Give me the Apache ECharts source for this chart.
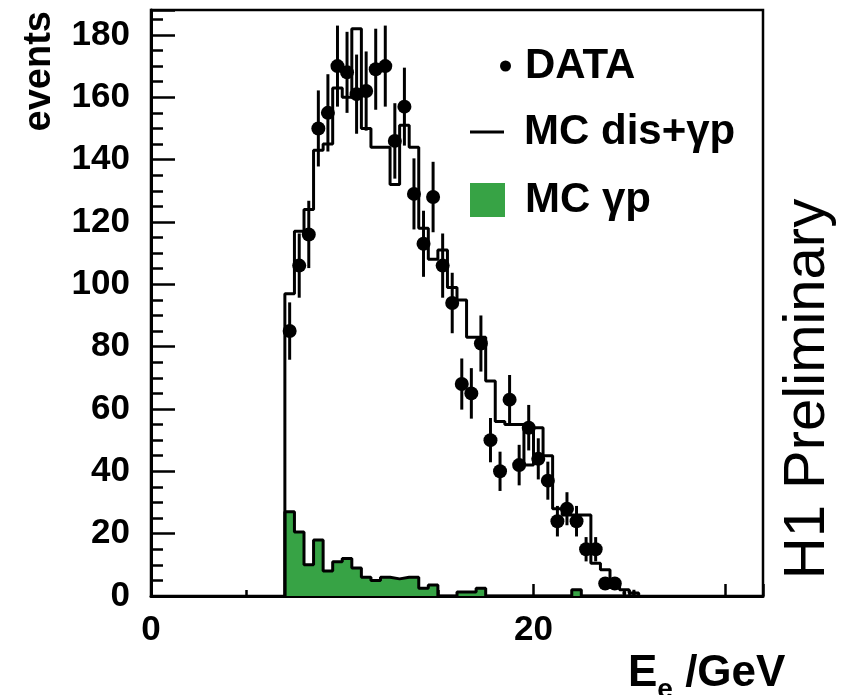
<!DOCTYPE html>
<html>
<head>
<meta charset="utf-8">
<style>
  html, body { margin: 0; padding: 0; background: #fff; }
  #chart { width: 845px; height: 695px; }
</style>
<script src="https://cdn.jsdelivr.net/npm/echarts@6/dist/echarts.min.js"></script>
</head>
<body>
<div id="chart"></div>
<script>
// Electron energy spectrum, histogram bins of 0.5 GeV starting at 7 GeV
const binStart = 7.0;
const binWidth = 0.5;

// Measured events per bin (points) and their statistical error half-lengths
const dataCounts = [85, 106, 116, 150, 155, 170, 168, 161, 162, 169, 170, 146, 157, 129, 113, 128, 106, 94, 68, 65, 81, 50, 40, 63, 42, 54, 44, 37, 24, 28, 24, 15, 15, 4, 4, 1, 1];
const dataErrors = [9.2, 10.3, 10.8, 12.2, 12.4, 13.0, 13.0, 12.7, 12.7, 13.0, 13.0, 12.1, 12.5, 11.4, 10.6, 11.3, 10.3, 9.7, 8.2, 8.1, 9.0, 7.1, 6.3, 7.9, 6.5, 7.3, 6.6, 6.1, 4.9, 5.3, 4.9, 3.9, 3.9, 2.0, 2.0, 1.0, 1.0];

// Simulation: DIS + photoproduction (total) and photoproduction alone
const mcTotal = [97, 117, 124, 143, 145, 163, 160, 182, 150, 144, 144, 132, 151, 144, 118, 108, 111, 99, 95, 83, 83, 69, 56, 55, 55, 42, 54, 45, 28, 26, 26, 26, 10.5, 8.4, 4, 2, 1];
const mcGammaP = [27, 20.5, 10, 18, 8, 11, 12, 9, 6, 5, 6, 5.5, 6, 6, 2.5, 3.5, 0, 0, 1.3, 1.3, 2.5, 0, 0, 0, 0, 0, 0, 0, 0, 0, 2, 0, 0, 0, 0, 0, 0];

// Axis settings
const xRange = [0, 32];
const yRange = [0, 188];
const xLabelValues = [0, 20];

const seriesNames = ['DATA', 'MC dis+\u03b3p', 'MC \u03b3p'];
const FONT = '"Liberation Sans", Arial, Helvetica, sans-serif';
const GREEN = '#37a345';

// Build step outlines: start at zero on the low edge, one point per bin low edge, close at zero
function stepPoints(values) {
  const pts = [[binStart, 0]];
  values.forEach((v, i) => pts.push([binStart + i * binWidth, v]));
  pts.push([binStart + values.length * binWidth, 0]);
  return pts;
}

const points = dataCounts.map((v, i) => [binStart + (i + 0.5) * binWidth, v, dataErrors[i]]);

const chart = echarts.init(document.getElementById('chart'), null, { renderer: 'canvas' });

chart.setOption({
  animation: false,
  backgroundColor: '#fff',
  grid: {
    left: 151, right: 82, top: 10, bottom: 99,
    containLabel: false, outerBoundsMode: 'none',
    show: true, borderColor: '#000', borderWidth: 2.5, backgroundColor: 'transparent'
  },
  xAxis: {
    type: 'value', min: xRange[0], max: xRange[1], interval: 10,
    axisLine: { show: true, onZero: false, lineStyle: { color: '#000', width: 3 } },
    axisTick: { show: true, inside: true, length: 12, lineStyle: { color: '#000', width: 2.5 } },
    minorTick: { show: true, splitNumber: 2, length: 6, lineStyle: { color: '#000', width: 2.5 } },
    splitLine: { show: false },
    axisLabel: {
      margin: 17, color: '#000', fontFamily: FONT, fontWeight: 'bold', fontSize: 35,
      showMaxLabel: false,
      formatter: v => (xLabelValues.indexOf(v) >= 0 ? String(v) : '')
    },
    name: '{e|E}{s|e} /GeV',
    nameLocation: 'end', nameGap: -135,
    nameTextStyle: {
      align: 'left', verticalAlign: 'top', padding: [48, 0, 0, 0],
      color: '#000', fontFamily: FONT, fontWeight: 'bold', fontSize: 44,
      rich: {
        e: { fontFamily: FONT, fontWeight: 'bold', fontSize: 44, color: '#000' },
        s: { fontFamily: FONT, fontWeight: 'bold', fontSize: 28, color: '#000', padding: [32, 0, 0, 0] }
      }
    }
  },
  yAxis: {
    type: 'value', min: yRange[0], max: yRange[1], interval: 20,
    axisLine: { show: true, onZero: false, lineStyle: { color: '#000', width: 3 } },
    axisTick: { show: true, inside: true, length: 24, lineStyle: { color: '#000', width: 2.5 } },
    minorTick: { show: true, splitNumber: 4, length: 12, lineStyle: { color: '#000', width: 2.5 } },
    splitLine: { show: false },
    axisLabel: {
      margin: 21, color: '#000', fontFamily: FONT, fontWeight: 'bold', fontSize: 35,
      showMaxLabel: false
    }
  },
  legend: [
    {
      data: [{ name: seriesNames[0], icon: 'circle', itemStyle: { color: '#000' } }],
      left: 500, top: 45, padding: 0, itemWidth: 11, itemHeight: 11, selectedMode: false,
      textStyle: { color: '#000', fontFamily: FONT, fontWeight: 'bold', fontSize: 42, padding: [0, 0, 0, 9] }
    },
    {
      data: [{ name: seriesNames[1], icon: 'rect', itemStyle: { color: '#000', borderWidth: 0 } }],
      left: 470, top: 111, padding: 0, itemWidth: 34, itemHeight: 3, selectedMode: false,
      textStyle: { color: '#000', fontFamily: FONT, fontWeight: 'bold', fontSize: 42, padding: [0, 0, 0, 15] }
    },
    {
      data: [{ name: seriesNames[2], icon: 'rect', itemStyle: { color: GREEN, borderWidth: 0 } }],
      left: 470, top: 179, padding: 0, itemWidth: 35, itemHeight: 34, selectedMode: false,
      textStyle: { color: '#000', fontFamily: FONT, fontWeight: 'bold', fontSize: 42, padding: [0, 0, 0, 15] }
    }
  ],
  graphic: [
    {
      type: 'text', x: 40, y: 11, rotation: Math.PI / 2,
      style: { text: 'events', font: 'bold 38px ' + FONT, fill: '#000', align: 'right', verticalAlign: 'middle' }
    },
    {
      type: 'text', x: 808, y: 389, rotation: Math.PI / 2,
      style: { text: 'H1 Preliminary', font: '58px ' + FONT, fill: '#000', align: 'center', verticalAlign: 'middle' }
    }
  ],
  series: [
    {
      name: seriesNames[2], type: 'line', step: 'end', data: stepPoints(mcGammaP),
      symbol: 'none', color: GREEN,
      lineStyle: { color: '#000', width: 3 },
      areaStyle: { color: GREEN, opacity: 1 },
      z: 2
    },
    {
      name: seriesNames[1], type: 'line', step: 'end', data: stepPoints(mcTotal),
      symbol: 'none', color: '#000',
      lineStyle: { color: '#000', width: 3 },
      z: 3
    },
    {
      name: 'errors', type: 'custom', data: points, z: 4,
      renderItem: function (params, api) {
        const x = api.value(0), y = api.value(1), e = api.value(2);
        const hi = api.coord([x, y + e]);
        const lo = api.coord([x, Math.max(0, y - e)]);
        return {
          type: 'line',
          shape: { x1: hi[0], y1: hi[1], x2: lo[0], y2: lo[1] },
          style: { stroke: '#000', lineWidth: 3 }
        };
      }
    },
    {
      name: seriesNames[0], type: 'scatter', data: points, z: 5,
      symbol: 'circle',
      symbolSize: v => (v[1] < 2 ? 4 : 14),
      itemStyle: { color: '#000', opacity: 1 }
    }
  ]
});
</script>
</body>
</html>
